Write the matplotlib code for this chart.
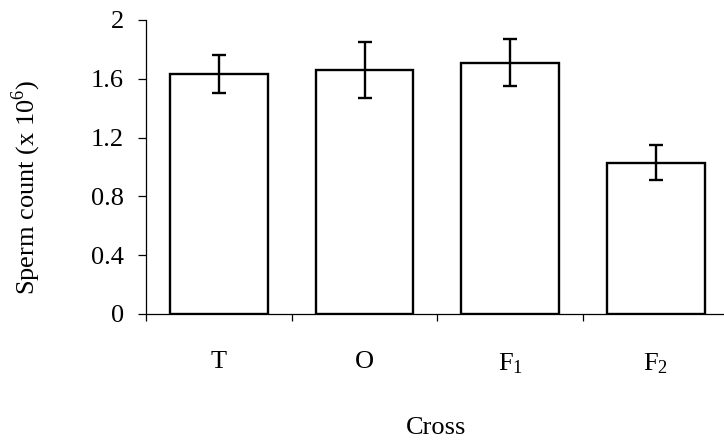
import numpy as np
import matplotlib.pyplot as plt

crosses = ["T", "O", "$\\mathregular{F_1}$", "$\\mathregular{F_2}$"]
sperm_count = [1.63, 1.66, 1.71, 1.03]
sperm_err = [0.13, 0.19, 0.16, 0.12]
y_ticks = [0, 0.4, 0.8, 1.2, 1.6, 2]
y_tick_labels = ["0", "0.4", "0.8", "1.2", "1.6", "2"]

plt.rcParams['font.family'] = ['Liberation Serif', 'DejaVu Serif']
plt.rcParams['mathtext.fontset'] = 'custom'
plt.rcParams['mathtext.rm'] = 'Liberation Serif'

fig = plt.figure(figsize=(7.24, 4.43), dpi=100)
# plot area runs a little past the right edge of the figure
ax = fig.add_axes([0.2017, 0.2912, 0.805, 0.6637])

x = np.arange(len(crosses))
ax.bar(x, sperm_count, width=0.67, color='white', edgecolor='black', linewidth=1.7,
       yerr=sperm_err, capsize=5.3,
       error_kw=dict(elinewidth=1.7, capthick=1.7, ecolor='black'))

ax.set_xlim(-0.5, len(crosses) - 0.5)
ax.set_ylim(0, 2)

for side in ('top', 'right'):
    ax.spines[side].set_visible(False)
for side in ('left', 'bottom'):
    ax.spines[side].set_linewidth(0.9)

ax.set_yticks(y_ticks)
ax.set_yticklabels(y_tick_labels, fontsize=19)
ax.tick_params(axis='y', direction='out', length=6, width=0.9, pad=10)

# category labels at bar centres, tick marks at category boundaries
ax.set_xticks(x)
ax.set_xticklabels(crosses, fontsize=19)
ax.tick_params(axis='x', which='major', length=0, pad=27)
ax.set_xticks(np.arange(len(crosses) + 1) - 0.5, minor=True)
ax.tick_params(axis='x', which='minor', direction='out', length=5, width=0.9)

ax.set_xlabel("Cross", fontsize=19)
ax.xaxis.set_label_coords(0.497, -0.35)
ax.set_ylabel("Sperm count (x 10$^{\\mathregular{6}}$)", fontsize=19)
ax.yaxis.set_label_coords(-0.177, 0.43)

fig.savefig("out.png", dpi=100)
